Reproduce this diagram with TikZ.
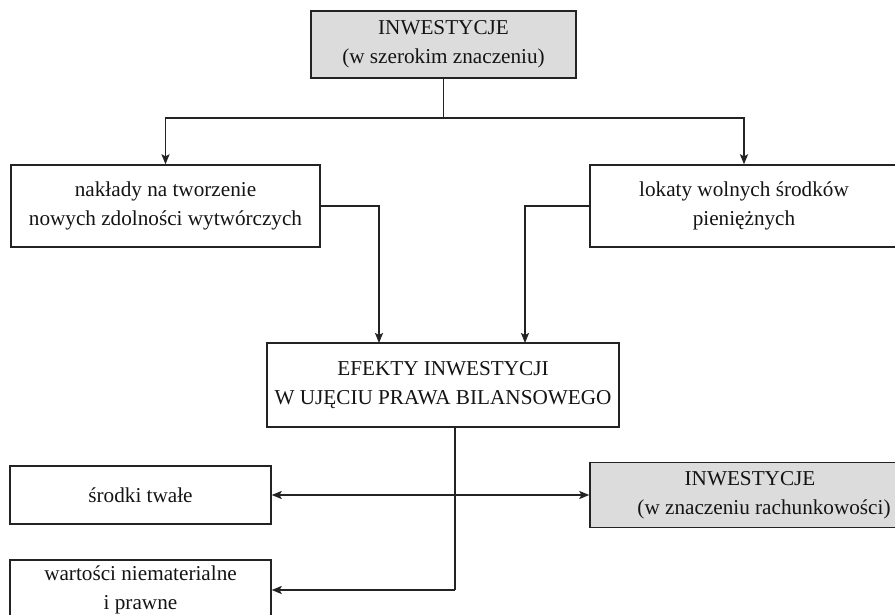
\documentclass[tikz,border=0pt]{standalone}
\usepackage{fontspec}
\setmainfont{Liberation Serif}
\usetikzlibrary{arrows.meta}
\definecolor{boxgrey}{RGB}{220,220,220}
\definecolor{ink}{RGB}{35,35,35}
\definecolor{textink}{RGB}{20,20,20}
\begin{document}
\begin{tikzpicture}[x=1pt,y=-1pt,
  txt/.style={text=textink,align=center,inner sep=0pt,
    font=\fontsize{21.2}{29}\selectfont},
  box/.style={txt,draw=ink,line width=1.4pt},
  shaded/.style={box,fill=boxgrey},
  link/.style={draw=ink,line width=1.4pt},
  arr/.style={link,-{Stealth[length=10pt,width=8pt,inset=2pt]}}]
\useasboundingbox (0,0) rectangle (895,615);
\clip (0,0) rectangle (895,615);
\fill[white] (0,0) rectangle (895,615);

% boxes
\node[shaded,minimum width=265,minimum height=67] (top) at (443.5,44.5)
  {INWESTYCJE\\(w szerokim znaczeniu)};
\node[box,minimum width=309,minimum height=82] (left) at (165.5,206)
  {nakłady na tworzenie\\nowych zdolności wytwórczych};
\node[box,minimum width=308,minimum height=82] (right) at (744,206)
  {lokaty wolnych środków\\pieniężnych};
\node[box,minimum width=352,minimum height=84] (mid) at (443,385)
  {EFEKTY INWESTYCJI\\W UJĘCIU PRAWA BILANSOWEGO};
\node[box,minimum width=261,minimum height=58] (st) at (140.5,495)
  {środki twałe};
\node[box,minimum width=261,minimum height=60] (wn) at (140.5,590)
  {wartości niematerialne\\i prawne};
\node[shaded,minimum width=308,minimum height=65] (rach) at (744,495) {};
\node[txt] (rachtext) at (764,495)
  {INWESTYCJE\hspace*{28pt}\\(w znaczeniu rachunkowości)};

% junction points
\coordinate (j1) at (443.5,118);
\coordinate (mlin) at (379,343);
\coordinate (mrin) at (525,343);
\coordinate (mout) at (455,427);
\coordinate (j2) at (455,495);
\coordinate (jb) at (455,590);

% connectors
\draw[link] (top.south) -- (j1);
\draw[arr] (j1) -| (left.north);
\draw[arr] (j1) -| (right.north);
\draw[arr] (left.east) -| (mlin);
\draw[arr] (right.west) -| (mrin);
\draw[link] (mout) -- (j2) -- (jb);
\draw[arr] (j2) -- (st.east);
\draw[arr] (j2) -- (rach.west);
\draw[arr] (jb) -- (wn.east);
\end{tikzpicture}
\end{document}
